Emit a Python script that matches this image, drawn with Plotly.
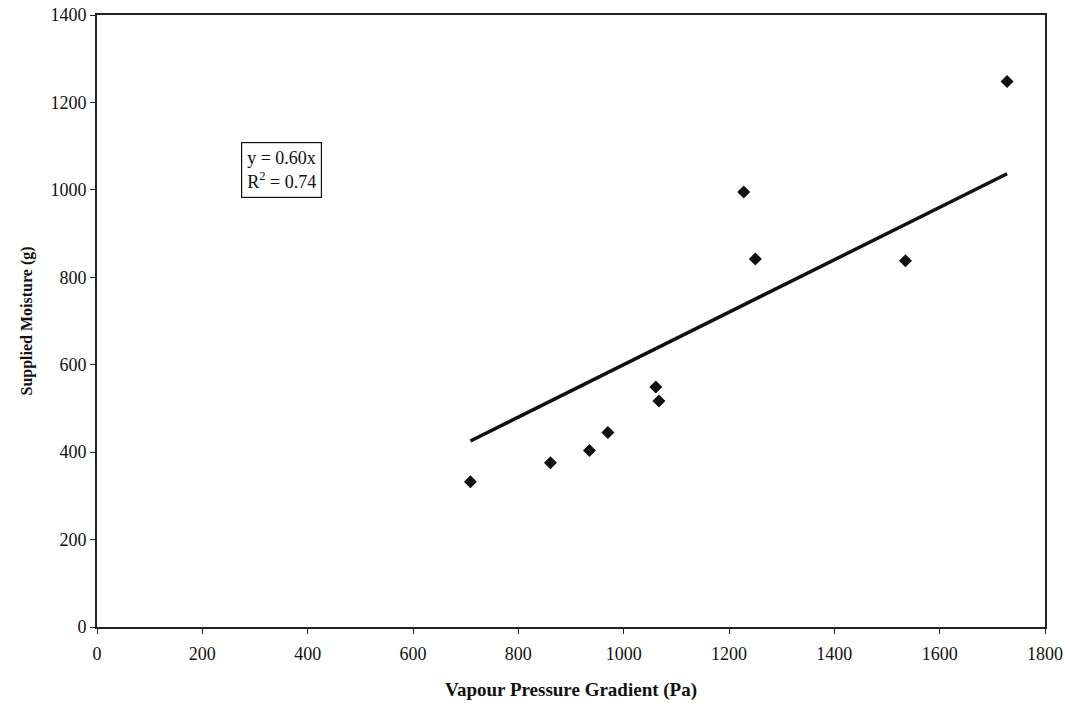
import plotly.graph_objects as go

# Measured supplied moisture against vapour pressure gradient
vapour_pressure_pa = [709, 861, 935, 970, 1061, 1067, 1228, 1250, 1535, 1728]
supplied_moisture_g = [332, 376, 404, 445, 549, 517, 995, 842, 838, 1248]

# Linear fit forced through the origin: y = slope * x
slope = 0.60
r_squared = 0.74

x_ticks = [0, 200, 400, 600, 800, 1000, 1200, 1400, 1600, 1800]
y_ticks = [0, 200, 400, 600, 800, 1000, 1200, 1400]

fit_x = [min(vapour_pressure_pa), max(vapour_pressure_pa)]
fit_y = [slope * v for v in fit_x]

serif = "Liberation Serif, Times New Roman, serif"

fig = go.Figure()
fig.add_trace(go.Scatter(
    x=fit_x, y=fit_y, mode="lines",
    line=dict(color="#111111", width=3.5),
    showlegend=False, hoverinfo="skip",
))
fig.add_trace(go.Scatter(
    x=vapour_pressure_pa, y=supplied_moisture_g, mode="markers",
    marker=dict(symbol="diamond", size=10, color="#111111"),
    showlegend=False,
))

fig.add_annotation(
    xref="paper", yref="paper", x=0.152, y=0.792,
    xanchor="left", yanchor="top", align="left",
    text=f"y = {slope:.2f}x<br>R<sup>2</sup> = {r_squared:.2f}",
    showarrow=False,
    font=dict(family=serif, size=18, color="#111111"),
    bordercolor="#111111", borderwidth=1.2, borderpad=5,
    bgcolor="white",
)

axis_common = dict(
    showgrid=False, zeroline=False, automargin=False,
    showline=True, linecolor="#222222", linewidth=2, mirror=True,
    ticks="outside", ticklen=5, tickwidth=1, tickcolor="#222222",
    tickfont=dict(family=serif, size=18, color="#111111"),
)

fig.update_xaxes(
    range=[0, 1800], tickvals=x_ticks, ticklabelstandoff=4,
    title=dict(text="<b>Vapour Pressure Gradient (Pa)</b>",
               font=dict(family=serif, size=19, color="#111111"), standoff=20),
    **axis_common,
)
fig.update_yaxes(
    range=[0, 1400], tickvals=y_ticks,
    title=dict(text="<b>Supplied Moisture (g)</b>",
               font=dict(family=serif, size=16, color="#111111"), standoff=14),
    **axis_common,
)

fig.update_layout(
    width=1068, height=704,
    margin=dict(l=97, r=23, t=15, b=77),
    paper_bgcolor="white", plot_bgcolor="white",
)

fig.write_html("out.html")
